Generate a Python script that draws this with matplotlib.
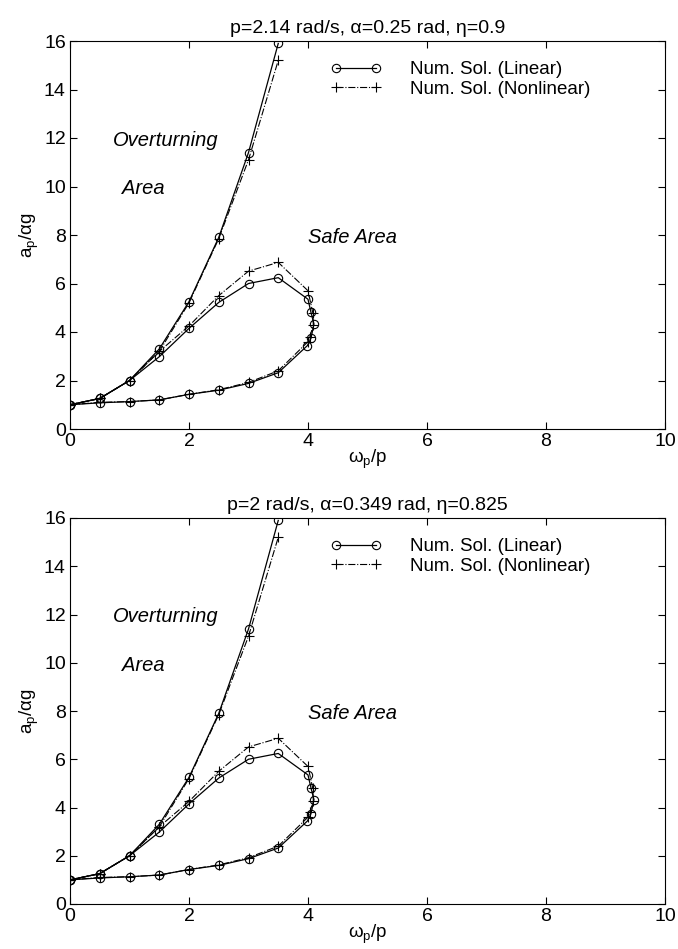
import matplotlib.pyplot as plt

plt.rcParams['font.family'] = ['Liberation Sans', 'DejaVu Sans']
plt.rcParams['mathtext.default'] = 'regular'

# upper boundary curve
x_bound = [0, 0.5, 1.0, 1.5, 2.0, 2.5, 3.0, 3.5]
y_bound_lin = [1.0, 1.26, 2.0, 3.3, 5.25, 7.9, 11.4, 15.9]
y_bound_nl = [1.0, 1.26, 2.0, 3.2, 5.2, 7.85, 11.1, 15.2]

# closed loop (lower branch out, upper branch back)
x_loop_lin = [0, 0.5, 1.0, 1.5, 2.0, 2.5, 3.0, 3.5, 3.99, 4.05, 4.1, 4.05, 4.0,
              3.5, 3.0, 2.5, 2.0, 1.5, 1.0, 0.5, 0]
y_loop_lin = [1.0, 1.08, 1.13, 1.2, 1.43, 1.6, 1.88, 2.32, 3.44, 3.74, 4.33, 4.81, 5.35,
              6.24, 6.0, 5.22, 4.15, 2.98, 2.0, 1.26, 1.0]
x_loop_nl = [0, 0.5, 1.0, 1.5, 2.0, 2.5, 3.0, 3.5, 4.0, 4.03, 4.09, 4.08, 4.0,
             3.5, 3.0, 2.5, 2.0, 1.5, 1.0, 0.5, 0]
y_loop_nl = [1.0, 1.1, 1.13, 1.2, 1.43, 1.62, 1.92, 2.4, 3.6, 3.8, 4.29, 4.8, 5.7,
             6.87, 6.51, 5.5, 4.25, 3.2, 2.0, 1.26, 1.0]

titles = ["p=2.14 rad/s, \u03b1=0.25 rad, \u03b7=0.9",
          "p=2 rad/s, \u03b1=0.349 rad, \u03b7=0.825"]

fig = plt.figure(figsize=(6.78, 9.49), dpi=100)
ax_pos = [[70/678, 520/949, 595/678, 388/949],
          [70/678, 45/949, 595/678, 386/949]]

for pos, title in zip(ax_pos, titles):
    ax = fig.add_axes(pos)
    ax.plot(x_bound, y_bound_lin, '-', color='black', lw=0.9,
            marker='o', mfc='none', ms=6, mew=0.8, label='Num. Sol. (Linear)')
    ax.plot(x_bound, y_bound_nl, '-.', color='black', lw=0.8,
            marker='+', ms=7, mew=0.8, label='Num. Sol. (Nonlinear)')
    ax.plot(x_loop_lin, y_loop_lin, '-', color='black', lw=0.9,
            marker='o', mfc='none', ms=6, mew=0.8)
    ax.plot(x_loop_nl, y_loop_nl, '-.', color='black', lw=0.8,
            marker='+', ms=7, mew=0.8)

    ax.set_xlim(0, 10)
    ax.set_ylim(0, 16)
    ax.set_xticks(range(0, 11, 2))
    ax.set_yticks(range(0, 17, 2))
    ax.tick_params(direction='in', top=True, right=True, labelsize=14, length=5, pad=3)
    ax.set_title(title, fontsize=14, pad=6)
    ax.set_xlabel('\u03c9$_p$/p', fontsize=13.5, labelpad=-2)
    ax.set_ylabel('a$_p$/\u03b1g', fontsize=13.5, labelpad=2)

    ax.text(0.72, 11.9, 'Overturning', style='italic', fontsize=14.5, va='center')
    ax.text(0.87, 9.9, 'Area', style='italic', fontsize=14.5, va='center')
    ax.text(4.0, 7.9, 'Safe Area', style='italic', fontsize=14.5, va='center')

    ax.legend(loc='upper left', bbox_to_anchor=(0.437, 0.948), frameon=False,
              fontsize=13.5, handlelength=2.75, handletextpad=1.5, labelspacing=0.12,
              numpoints=2, borderaxespad=0, borderpad=0)

fig.savefig('out.png', dpi=100)
